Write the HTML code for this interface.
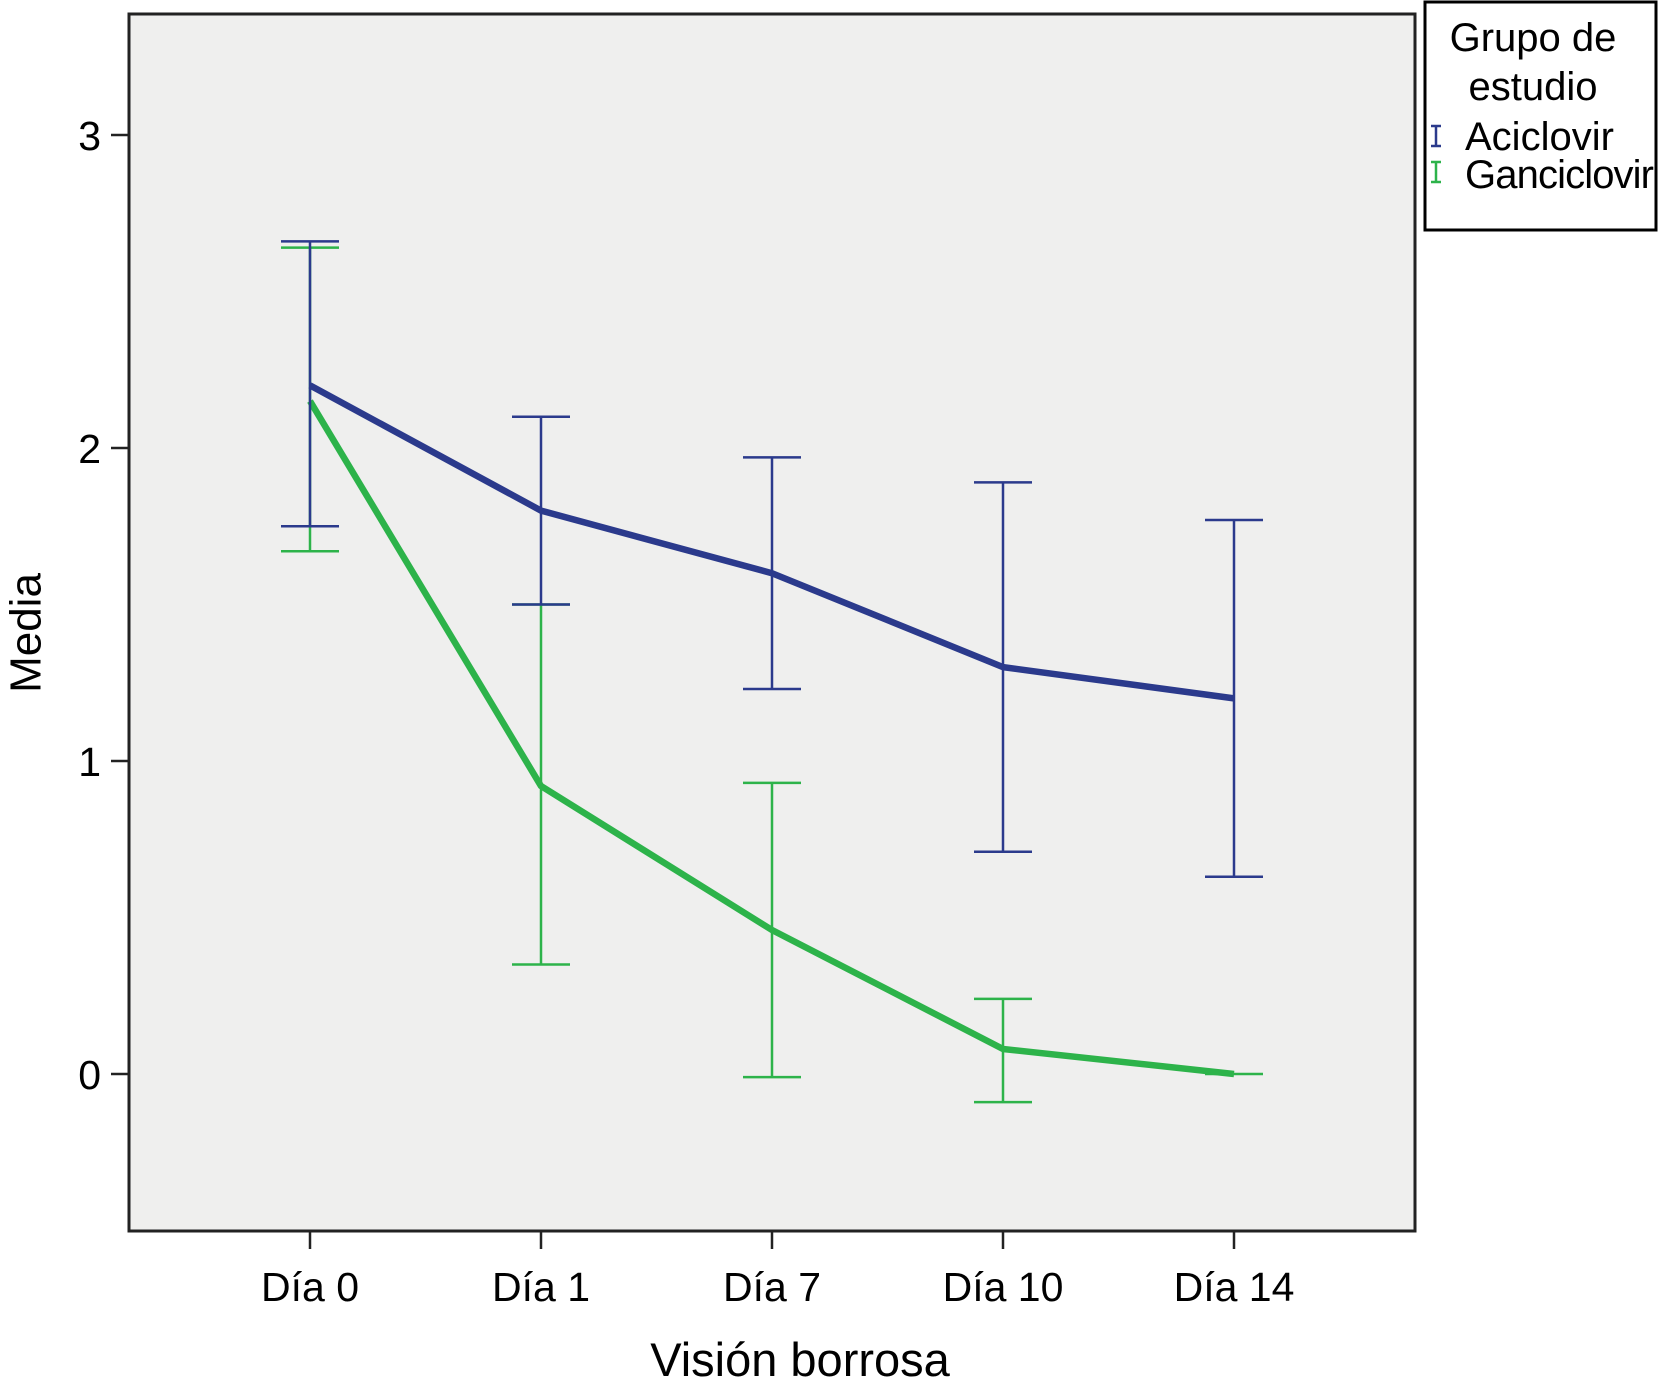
<!DOCTYPE html>
<html><head><meta charset="utf-8"><style>
body{margin:0;background:#fff;}
svg{display:block;font-family:"Liberation Sans",sans-serif;}
</style></head><body>
<svg id="chart" width="1659" height="1387" viewBox="0 0 1659 1387">
<rect x="129" y="14" width="1286" height="1217" fill="#efefee" stroke="#222" stroke-width="3"/>
<g id="axes"></g>
<g id="series"></g>
<text x="26" y="633" font-size="44" text-anchor="middle" transform="rotate(-90 26 633)" dominant-baseline="central">Media</text>
<text x="800" y="1376" font-size="47" text-anchor="middle">Visión borrosa</text>
<g>
<rect x="1425" y="2" width="231" height="228" fill="#fff" stroke="#000" stroke-width="3"/>
<text x="1533" y="51" font-size="40" text-anchor="middle">Grupo de</text>
<text x="1533" y="100" font-size="40" text-anchor="middle">estudio</text>
<g>
<path d="M1431 126h10M1436 126v20M1431 146h10" stroke="#2b3a8c" stroke-width="2.5" fill="none"/>
<text x="1465" y="150" font-size="40">Aciclovir</text></g>
<g>
<path d="M1431 162h10M1436 162v20M1431 182h10" stroke="#2db34a" stroke-width="2.5" fill="none"/>
<text x="1465" y="188" font-size="40" textLength="189">Ganciclovir</text></g>
</g>
</svg>
<script>
const categories=["Día 0","Día 1","Día 7","Día 10","Día 14"];
const yTicks=[0,1,2,3];
const acicloMean=[2.2,1.8,1.6,1.3,1.2];
const acicloUpper=[2.66,2.1,1.97,1.89,1.77];
const acicloLower=[1.75,1.5,1.23,0.71,0.63];
const ganciMean=[2.15,0.92,0.46,0.08,0.0];
const ganciUpper=[2.64,1.5,0.93,0.24,0.0];
const ganciLower=[1.67,0.35,-0.01,-0.09,0.0];
const NS="http://www.w3.org/2000/svg";
const y=v=>1074-v*313;
const x=i=>310+i*231;
function mk(tag,attrs,parent){const e=document.createElementNS(NS,tag);for(const k in attrs)e.setAttribute(k,attrs[k]);parent.appendChild(e);return e;}
const axes=document.getElementById('axes'),series=document.getElementById('series');
yTicks.forEach(t=>{
 const l=mk('line',{x1:111,x2:129,y1:y(t),y2:y(t),stroke:'#222','stroke-width':2.5},axes);
 
 
 const tx=mk('text',{x:101,y:y(t)+15,'font-size':41,'text-anchor':'end'},axes);
 tx.textContent=t;
 
 
});
categories.forEach((c,i)=>{
 const l=mk('line',{x1:x(i),x2:x(i),y1:1231,y2:1249,stroke:'#222','stroke-width':2.5},axes);
 
 
 const tx=mk('text',{x:x(i),y:1301,'font-size':41,'text-anchor':'middle'},axes);
 tx.textContent=c;
 
 
});
function draw(mean,up,lo,color,name){
 const g=mk('g',{},series);
 
 
 mean.forEach((m,i)=>{
  const d=`M${x(i)-29} ${y(up[i])}h58M${x(i)} ${y(up[i])}V${y(lo[i])}M${x(i)-29} ${y(lo[i])}h58`;
  const p=mk('path',{d:d,stroke:color,'stroke-width':2.5,fill:'none'},g);
  
  
 });
 const pl=mk('polyline',{points:mean.map((m,i)=>x(i)+','+y(m)).join(' '),stroke:color,'stroke-width':6.5,fill:'none','stroke-linejoin':'round'},g);
 
 
}
draw(ganciMean,ganciUpper,ganciLower,'#2db34a','ganciclovir');
draw(acicloMean,acicloUpper,acicloLower,'#2b3a8c','aciclovir');
</script>
</body></html>
